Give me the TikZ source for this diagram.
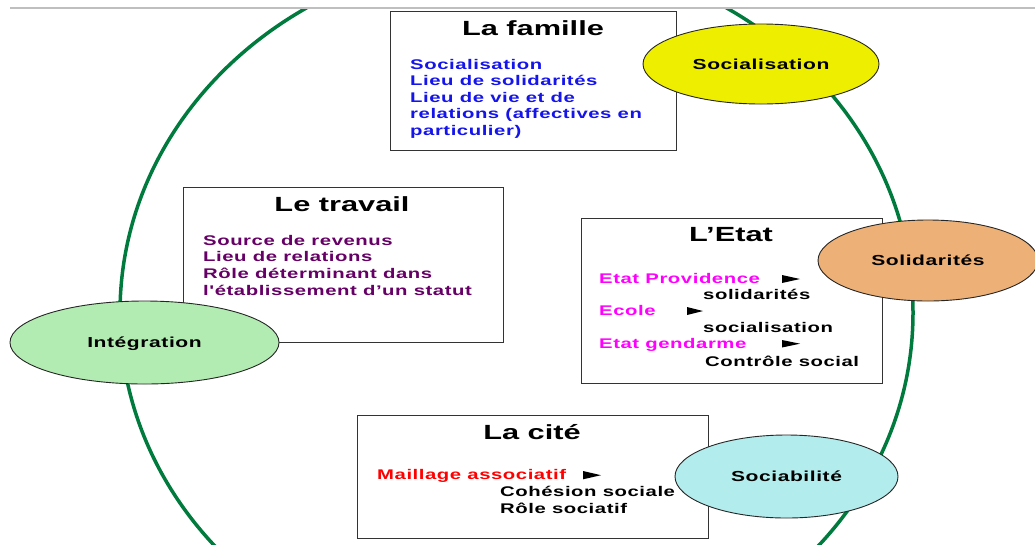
\documentclass[tikz,border=0pt]{standalone}
\usepackage{fontspec}
\setmainfont{Liberation Sans}[FakeStretch=1.45]
\newfontfamily\bodyfont{Liberation Sans}[FakeStretch=1.45,LetterSpace=4]
\newfontfamily\titlefont{Liberation Sans}[FakeStretch=1.5]
\usetikzlibrary{shapes.geometric}
\definecolor{ringgreen}{RGB}{0,122,61}
\definecolor{famblue}{RGB}{20,20,235}
\definecolor{travpurple}{RGB}{102,0,102}
\definecolor{etatmag}{RGB}{255,0,255}
\definecolor{citered}{RGB}{255,0,0}
\definecolor{ellyellow}{RGB}{238,238,0}
\definecolor{ellorange}{RGB}{237,176,118}
\definecolor{ellgreen}{RGB}{178,236,178}
\definecolor{ellcyan}{RGB}{178,236,236}
\tikzset{
  box/.style={draw=black!80, line width=1.3pt, fill=white, inner sep=0, anchor=north west},
  ttl/.style={font=\titlefont\bfseries\fontsize{20.5}{24}\selectfont, inner sep=0, anchor=base},
  txt/.style={font=\bodyfont\bfseries\fontsize{14}{16.5}\selectfont, inner sep=0, anchor=base west},
  ell/.style={ellipse, draw=black!85, line width=0.9pt, inner sep=0,
    font=\bodyfont\bfseries\fontsize{14.5}{16}\selectfont, text height=10pt, text depth=0pt},
  pointer/.style={fill=black},
  ring/.style={draw=ringgreen, line width=3.5pt},
  topline/.style={draw=black!25, line width=2pt}
}
\begin{document}
\begin{tikzpicture}[x=1pt,y=-1pt]
\useasboundingbox (0,0) rectangle (1035,544);
\fill[white] (0,0) rectangle (1035,544);
% big green ring
\begin{scope}
  \clip (0,8) rectangle (1035,544);
  \draw[ring] (516.5,312.8) ellipse [x radius=396.5pt, y radius=359.4pt];
\end{scope}
\draw[topline] (10,8) -- (1035,8);
% boxes
\node[box, minimum width=286pt, minimum height=139pt] (famille) at (390,11) {};
\node[box, minimum width=320pt, minimum height=155pt] (travail) at (183,187) {};
\node[box, minimum width=301pt, minimum height=165pt] (etat) at (581,218) {};
\node[box, minimum width=351pt, minimum height=123pt] (cite) at (357,415) {};
% ellipses
\node[ell, fill=ellyellow, minimum width=236pt, minimum height=80pt] (esoc) at (761,64) {Socialisation};
\node[ell, fill=ellorange, minimum width=220pt, minimum height=81pt] (esol) at (928,260.5) {Solidarités};
\node[ell, fill=ellgreen, minimum width=269pt, minimum height=83pt] (einteg) at (144.5,342.5) {Intégration};
\node[ell, fill=ellcyan, minimum width=223pt, minimum height=83pt] (esociab) at (786.5,476.5) {Sociabilité};
% La famille
\node[ttl] (tfam) at (533,35) {La famille};
\node[txt, text=famblue] (f1) at (410,69) {Socialisation};
\node[txt, text=famblue] (f2) at (410,85.5) {Lieu de solidarités};
\node[txt, text=famblue] (f3) at (410,102) {Lieu de vie et de};
\node[txt, text=famblue] (f4) at (410,118.5) {relations (affectives en};
\node[txt, text=famblue] (f5) at (410,135) {particulier)};
% Le travail
\node[ttl] (ttrav) at (342,211) {Le travail};
\node[txt, text=travpurple] (w1) at (203,245) {Source de revenus};
\node[txt, text=travpurple] (w2) at (203,261.7) {Lieu de relations};
\node[txt, text=travpurple] (w3) at (203,278.4) {Rôle déterminant dans};
\node[txt, text=travpurple] (w4) at (203,295.1) {l'établissement d’un statut};
% L'Etat
\node[ttl] (tetat) at (731,241.7) {L’Etat};
\node[txt, text=etatmag] (e1) at (599,283.3) {Etat Providence};
\node[txt] (e2) at (703,299.3) {solidarités};
\node[txt, text=etatmag] (e3) at (599,315) {Ecole};
\node[txt] (e4) at (703,332.7) {socialisation};
\node[txt, text=etatmag] (e5) at (599,348.3) {Etat gendarme};
\node[txt] (e6) at (705,366) {Contrôle social};
\fill[pointer] (782,275) -- (782,283) -- (800,279) -- cycle;
\fill[pointer] (687,307) -- (687,315) -- (703,311) -- cycle;
\fill[pointer] (782,340) -- (782,347.5) -- (800,343.7) -- cycle;
% La cite
\node[ttl] (tcite) at (532,439.5) {La cité};
\node[txt, text=citered] (c1) at (377,479.3) {Maillage associatif};
\node[txt] (c2) at (500,496.7) {Cohésion sociale};
\node[txt] (c3) at (500,513.3) {Rôle sociatif};
\fill[pointer] (583,471) -- (583,479.3) -- (601,475.2) -- cycle;
\end{tikzpicture}
\end{document}
